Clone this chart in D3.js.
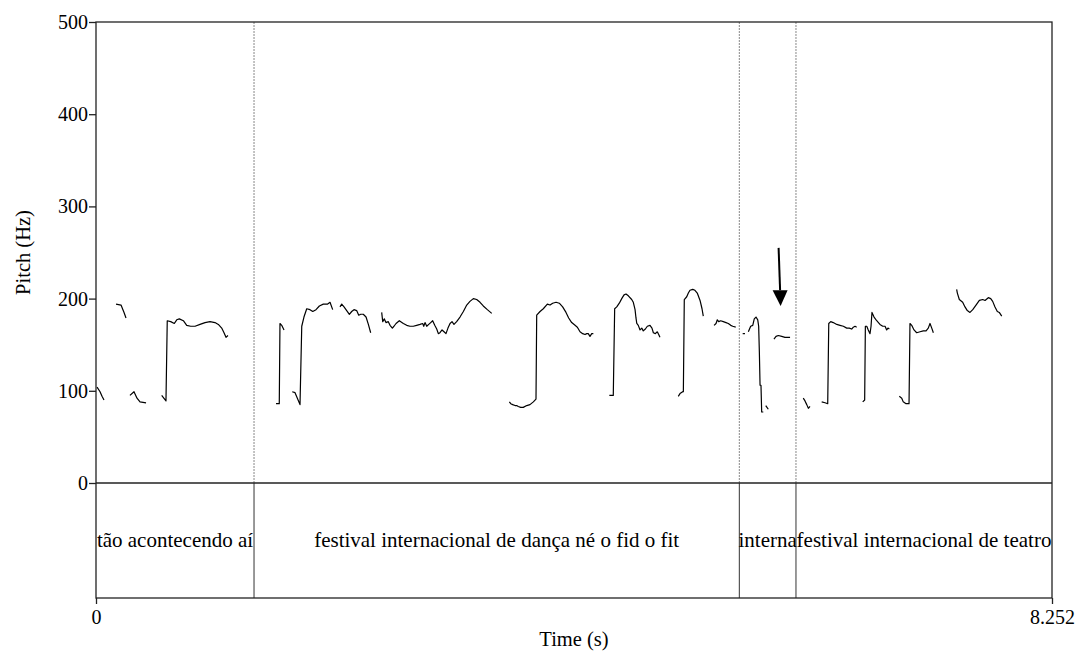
<!DOCTYPE html>
<html>
<head>
<meta charset="utf-8">
<script src="https://cdn.jsdelivr.net/npm/d3@7"></script>
<style>
  body { margin: 0; background: #fff; }
  text { font-family: "Liberation Serif", "Times New Roman", serif; fill: #000; }
</style>
</head>
<body>
<div id="chart"></div>
<script>
var totalTime = 8.252;
var yTicks = [0, 100, 200, 300, 400, 500];
var xTickLabels = [0, 8.252];

// textgrid tier: boundaries (s) and labels
var tierBounds = [0, 1.364, 5.553, 6.042, 8.252];
var tierLabels = ["tão acontecendo aí", "festival internacional de dança né o fid o fit", "interna", "festival internacional de teatro"];

// arrow annotation: [time, Hz start, Hz end]
var arrowMark = [5.905, 255, 192];

// pitch contour pieces, [time (s), Hz]
var segA = [[0.173,194],[0.216,193],[0.242,185],[0.259,179]];
var segB = [[0.009,104],[0.035,99],[0.052,94],[0.069,90]];
var segC = [[0.293,95],[0.328,99],[0.354,92],[0.380,88],[0.432,87]];
var segD = [[0.567,95],[0.604,89],[0.615,176],[0.645,175],[0.676,173],[0.697,177],[0.719,178],[0.754,176],[0.783,171],[0.817,170],[0.855,170],[0.898,172],[0.941,174],[0.984,175],[1.027,174],[1.056,172],[1.085,168],[1.105,163],[1.122,158],[1.139,160]];
var segE = [[1.554,86],[1.582,86],[1.588,173],[1.603,171],[1.623,166]];
var segF = [[1.694,99],[1.718,98],[1.738,92],[1.761,85],[1.776,170],[1.795,180],[1.819,189],[1.847,188],[1.871,186],[1.899,188],[1.928,192],[1.962,194],[1.997,194],[2.020,196],[2.043,188]];
var segG = [[2.106,191],[2.121,194],[2.141,191],[2.164,187],[2.187,183],[2.207,186],[2.227,188],[2.250,187],[2.268,182],[2.285,183],[2.307,183],[2.331,180],[2.351,172],[2.371,163]];
var segH = [[2.466,185],[2.475,175],[2.489,178],[2.503,174],[2.523,175],[2.538,171],[2.558,168],[2.572,170],[2.590,173],[2.618,176],[2.653,173],[2.682,171],[2.710,170],[2.739,170],[2.768,171],[2.797,172],[2.820,173],[2.829,170],[2.840,174],[2.855,170],[2.872,172],[2.889,174],[2.906,176],[2.924,171],[2.941,167],[2.955,162],[2.969,163],[2.987,166],[3.004,164],[3.021,162],[3.038,168],[3.056,173],[3.073,175],[3.090,172],[3.113,175],[3.142,180],[3.171,186],[3.200,193],[3.228,197],[3.257,200],[3.286,199],[3.315,196],[3.343,192],[3.378,188],[3.416,184]];
var segI = [[3.568,88],[3.580,86],[3.597,85],[3.617,84],[3.631,84],[3.645,83],[3.666,82],[3.688,82],[3.718,84],[3.746,85],[3.775,88],[3.798,91],[3.804,182],[3.833,186],[3.861,189],[3.896,194],[3.919,193],[3.942,195],[3.971,196],[3.999,195],[4.028,191],[4.057,185],[4.080,179],[4.106,174],[4.135,171],[4.155,169],[4.178,164],[4.201,162],[4.221,161],[4.236,162],[4.249,162],[4.264,159],[4.279,162],[4.293,162]];
var segJ = [[4.431,95],[4.460,95],[4.465,95],[4.477,189],[4.495,191],[4.517,195],[4.538,200],[4.558,204],[4.575,205],[4.595,203],[4.624,199],[4.638,196],[4.653,188],[4.661,179],[4.668,173],[4.681,171],[4.696,166],[4.711,168],[4.724,165],[4.742,167],[4.759,170],[4.782,171],[4.799,168],[4.811,163],[4.828,162],[4.845,164],[4.857,161],[4.868,158]];
var segK = [[5.026,94],[5.041,97],[5.064,99],[5.070,99],[5.078,199],[5.099,202],[5.113,206],[5.127,209],[5.151,210],[5.170,209],[5.190,206],[5.214,198],[5.231,189],[5.242,181]];
var segL = [[5.335,171],[5.352,173],[5.363,177],[5.375,175],[5.392,176],[5.415,175],[5.438,174],[5.458,173],[5.479,171],[5.496,170],[5.522,169]];
var segM1 = [[5.582,162],[5.602,162]];
var segM2 = [[5.631,164],[5.651,170],[5.669,171],[5.682,178],[5.697,180],[5.712,177],[5.720,170],[5.726,142],[5.732,106],[5.740,106],[5.746,77],[5.760,77]];
var segM3 = [[5.781,84],[5.803,80]];
var segN = [[5.852,156],[5.870,159],[5.890,160],[5.919,159],[5.947,158],[5.991,158]];
var segO = [[6.105,92],[6.120,89],[6.135,85],[6.149,81],[6.163,83]];
var segP = [[6.264,88],[6.293,87],[6.316,86],[6.325,173],[6.342,175],[6.364,174],[6.394,172],[6.422,171],[6.451,170],[6.480,168],[6.502,168],[6.523,167],[6.537,169],[6.552,170],[6.566,169]];
var segQ = [[6.618,88],[6.635,90],[6.641,170],[6.653,170],[6.666,166],[6.681,162],[6.690,170],[6.698,185],[6.716,180],[6.739,176],[6.767,172],[6.791,170],[6.811,170],[6.825,166],[6.836,168],[6.848,167]];
var segR = [[6.934,94],[6.955,92],[6.968,88],[6.992,86],[7.018,86],[7.026,173],[7.041,171],[7.061,166],[7.084,163],[7.113,164],[7.141,165],[7.165,165],[7.184,168],[7.199,173],[7.214,168],[7.228,163]];
var segS = [[7.429,210],[7.435,206],[7.452,199],[7.481,196],[7.501,191],[7.521,187],[7.544,185],[7.568,188],[7.596,193],[7.625,198],[7.654,199],[7.674,198],[7.702,201],[7.723,200],[7.740,197],[7.760,191],[7.780,186],[7.797,185],[7.818,181]];

var pitchSegments = [segA, segB, segC, segD, segE, segF, segG, segH, segI, segJ, segK, segL, segM1, segM2, segM3, segN, segO, segP, segQ, segR, segS];

var W = 1077, H = 652;
var padL = 96, padR = 1052, plotTop = 22, zeroY = 483, plotBottom = 598;
var serif = '"Liberation Serif", "Times New Roman", serif';

var svg = d3.select('#chart')
    .append('svg')
    .attr('width', W)
    .attr('height', H);

var x = d3.scaleLinear().domain([0, totalTime]).range([padL, padR]);
var y = d3.scaleLinear().domain([0, 500]).range([zeroY, plotTop]);

// dotted boundaries in the pitch area
svg.selectAll('.bound-dot')
    .data(tierBounds.slice(1, -1))
    .enter().append('line')
    .attr('class', 'bound-dot')
    .attr('x1', function (d) { return x(d); })
    .attr('x2', function (d) { return x(d); })
    .attr('y1', plotTop)
    .attr('y2', zeroY)
    .style('stroke', '#888')
    .style('stroke-width', 1)
    .style('stroke-dasharray', '2,1');

// solid boundaries in the tier
svg.selectAll('.bound')
    .data(tierBounds.slice(1, -1))
    .enter().append('line')
    .attr('class', 'bound')
    .attr('x1', function (d) { return x(d); })
    .attr('x2', function (d) { return x(d); })
    .attr('y1', zeroY)
    .attr('y2', plotBottom)
    .style('stroke', '#333')
    .style('stroke-width', 1);

// pitch contour
var line = d3.line()
    .x(function (d) { return x(d[0]); })
    .y(function (d) { return y(d[1]); });

svg.selectAll('.pitch')
    .data(pitchSegments)
    .enter().append('path')
    .attr('class', 'pitch')
    .attr('d', line)
    .style('fill', 'none')
    .style('stroke', '#000')
    .style('stroke-width', 1.2)
    .style('stroke-linejoin', 'round');

// frame
svg.append('rect')
    .attr('x', padL)
    .attr('y', plotTop)
    .attr('width', padR - padL)
    .attr('height', plotBottom - plotTop)
    .style('fill', 'none')
    .style('stroke', '#222')
    .style('stroke-width', 1.3);

svg.append('line')
    .attr('x1', padL).attr('x2', padR)
    .attr('y1', zeroY).attr('y2', zeroY)
    .style('stroke', '#222')
    .style('stroke-width', 1.3);

// y axis
var yAxis = d3.axisLeft(y).tickValues(yTicks).tickSize(7).tickSizeOuter(0).tickPadding(1);
var gy = svg.append('g')
    .attr('transform', 'translate(' + padL + ',0)')
    .call(yAxis);
gy.select('.domain').remove();
gy.selectAll('line').style('stroke', '#222').style('stroke-width', 1.3);
gy.selectAll('text')
    .style('font-family', serif)
    .style('font-size', '20px')
    .style('fill', '#000');

// x axis (at bottom of tier)
var xAxis = d3.axisBottom(x).tickValues(xTickLabels).tickSize(6).tickSizeOuter(0).tickPadding(6)
    .tickFormat(function (d) { return d === 0 ? '0' : d3.format('.3f')(d); });
var gx = svg.append('g')
    .attr('transform', 'translate(0,' + plotBottom + ')')
    .call(xAxis);
gx.select('.domain').remove();
gx.selectAll('line').style('stroke', '#222').style('stroke-width', 1.3);
gx.selectAll('text')
    .style('font-family', serif)
    .style('font-size', '20px')
    .style('fill', '#000');

// axis titles
svg.append('text')
    .attr('transform', 'translate(30,' + ((plotTop + zeroY) / 2) + ') rotate(-90)')
    .attr('text-anchor', 'middle')
    .style('font-family', serif)
    .style('font-size', '20.5px')
    .text('Pitch (Hz)');

svg.append('text')
    .attr('x', (padL + padR) / 2)
    .attr('y', 646)
    .attr('text-anchor', 'middle')
    .style('font-family', serif)
    .style('font-size', '20.5px')
    .text('Time (s)');

// tier labels
svg.selectAll('.tier-label')
    .data(tierLabels)
    .enter().append('text')
    .attr('class', 'tier-label')
    .attr('x', function (d, i) { return (x(tierBounds[i]) + x(tierBounds[i + 1])) / 2; })
    .attr('y', (zeroY + plotBottom) / 2)
    .attr('dy', '0.33em')
    .attr('text-anchor', 'middle')
    .style('font-family', serif)
    .style('font-size', '21px')
    .text(function (d) { return d; });

// arrow
var headLen = y(arrowMark[2] + 17) - y(arrowMark[2]);
var ax = x(arrowMark[0]);
svg.append('line')
    .attr('x1', ax - 1.5)
    .attr('y1', y(arrowMark[1]))
    .attr('x2', ax)
    .attr('y2', y(arrowMark[2]) + headLen)
    .style('stroke', '#000')
    .style('stroke-width', 2);

svg.append('path')
    .attr('d', 'M' + (ax - 7.5) + ',' + (y(arrowMark[2]) + headLen) +
        'L' + (ax + 7.5) + ',' + (y(arrowMark[2]) + headLen) +
        'L' + (ax + 0.5) + ',' + y(arrowMark[2]) + 'Z')
    .style('fill', '#000');
</script>
</body>
</html>
